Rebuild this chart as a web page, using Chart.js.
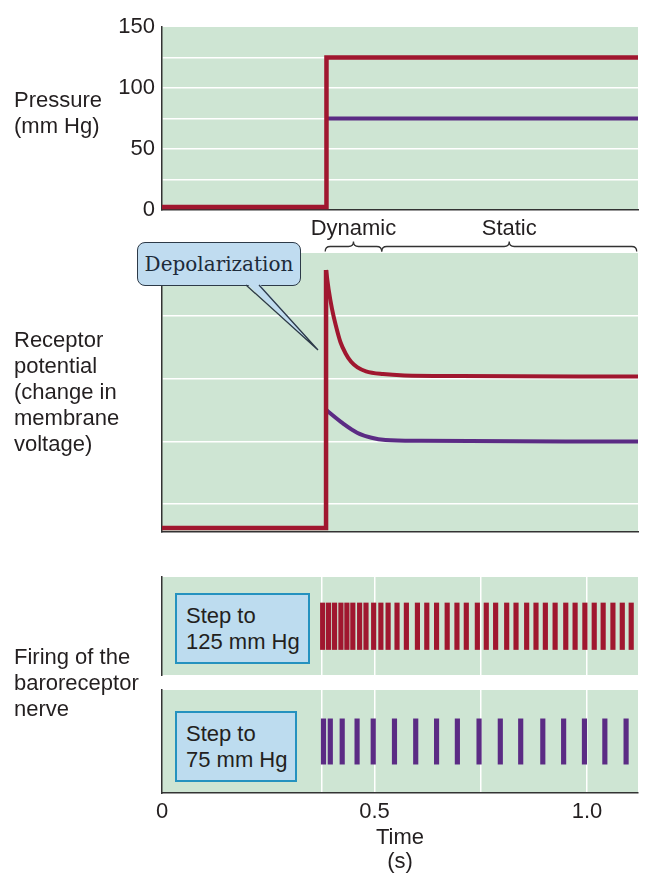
<!DOCTYPE html>
<html lang="en">
<head>
<meta charset="UTF-8">
<title>Baroreceptor response to a pressure step</title>
<script src="https://cdn.jsdelivr.net/npm/chart.js"></script>
<style>
  body { margin: 0; background: #fff; }
  #wrap { position: relative; width: 660px; height: 877px; overflow: hidden;
          font-family: 'Liberation Sans', Arial, sans-serif; color: #231f20; }
  #wrap canvas { position: absolute; left: 0; top: 0; }
  .lbl { position: absolute; left: 14px; font-size: 22px; line-height: 26px; white-space: nowrap; }
  .phase { position: absolute; top: 215px; font-size: 22px; line-height: 26px; transform: translateX(-50%); white-space: nowrap; }
  .step { position: absolute; left: 175px; height: 71px; box-sizing: border-box; background: #bddcef;
          border: 2px solid #2592bf; padding-left: 9px; font-size: 22px; line-height: 26px;
          display: flex; flex-direction: column; justify-content: center; white-space: nowrap; }
  .callout { position: absolute; left: 137px; top: 242px; width: 164px; height: 44px; box-sizing: border-box;
             background: #c0dcf0; border: 1.5px solid #2d3a48; border-radius: 8px;
             font-family: 'DejaVu Serif', 'Liberation Serif', serif; font-size: 20px; color: #1d2b3a;
             display: flex; align-items: center; justify-content: center; }
  svg { position: absolute; left: 0; top: 0; }
</style>
</head>
<body>
<div id="wrap">
  <canvas id="pressChart" width="660" height="877"></canvas>
  <canvas id="recChart" width="660" height="877"></canvas>
  <canvas id="fire125Chart" width="660" height="877"></canvas>
  <canvas id="fire75Chart" width="660" height="877"></canvas>

  <div class="lbl" style="top:87px">Pressure<br>(mm Hg)</div>
  <div class="lbl" style="top:327px">Receptor<br>potential<br>(change in<br>membrane<br>voltage)</div>
  <div class="lbl" style="top:644px">Firing of the<br>baroreceptor<br>nerve</div>

  <div class="callout">Depolarization</div>
  <svg width="660" height="877">
    <polygon points="246,283 318,350 259,283" fill="#c0dcf0"/>
    <polyline points="246,285 318,350 259,285" fill="none" stroke="#2d3a48" stroke-width="1.3"/>
  </svg>

  <div class="step" style="top:593px; width:135px">Step to<br>125 mm Hg</div>
  <div class="step" style="top:711px; width:122px">Step to<br>75 mm Hg</div>
</div>

<script>
const GREEN = '#cee5d3', RED = '#a0172f', PURPLE = '#5b2b84', AXIS = '#333333', INK = '#231f20';
const FONT = "'Liberation Sans', Arial, sans-serif";

// time axis (s)
const timeMax = 1.12;
const timeTicks = [0, 0.5, 1.0];
const timeTickLabels = ['0', '0.5', '1.0'];
const firingGridTimes = [0.375, 0.5, 0.75, 1.0];

// pressure (mm Hg)
const pressureTicks = [0, 50, 100, 150];
const pressureGrid = [25, 50, 75, 100, 125];
const pressRedTime = [0, 0.387, 0.387, 1.12];
const pressRedVal = [2.5, 2.5, 125, 125];
const pressPurpleTime = [0.387, 1.12];
const pressPurpleVal = [75, 75];

// receptor potential (relative units, 0-100)
const receptorGrid = [10, 32.5, 55, 77.5];
const recStepTime = [0, 0.386, 0.386];
const recStepVal = [1.4, 1.4, 93.9];
const recRedTime = [0.386, 0.392, 0.400, 0.409, 0.420, 0.432, 0.445, 0.460, 0.480, 0.520, 0.570, 0.700, 1.12];
const recRedVal = [93.9, 87, 80, 74, 68, 64, 61, 59, 57.6, 56.6, 56.1, 55.9, 55.7];
const recPurpleTime = [0.387, 0.400, 0.425, 0.459, 0.493, 0.526, 0.610, 1.12];
const recPurpleVal = [43.7, 42, 39, 35.6, 33.8, 33.0, 32.7, 32.4];

// dynamic / static phases
const phaseNames = ['Dynamic', 'Static'];
const phaseBounds = [0.384, 0.517, 1.117];

// action potential times (s) and the band each spike spans (panel fraction)
const spikes125 = [0.378, 0.392, 0.406, 0.421, 0.435, 0.449, 0.465, 0.480, 0.498, 0.515, 0.532, 0.553,
                   0.575, 0.601, 0.623, 0.646, 0.671, 0.694, 0.716, 0.742, 0.763, 0.785, 0.811, 0.833,
                   0.858, 0.880, 0.902, 0.925, 0.950, 0.972, 0.995, 1.017, 1.038, 1.061, 1.083, 1.104];
const spikes75 = [0.380, 0.396, 0.424, 0.459, 0.497, 0.547, 0.597, 0.646, 0.695, 0.746, 0.796, 0.844,
                  0.896, 0.945, 0.994, 1.042, 1.092];
const spikeSpan125 = [0.26, 0.735];
const spikeSpan75 = [0.28, 0.72];

const series = (ts, vs) => ts.map((t, i) => ({ x: t, y: vs[i] }));

function lineSet(ts, vs, color, width, curved) {
  return {
    data: series(ts, vs), borderColor: color, borderWidth: width, pointRadius: 0, fill: false,
    tension: 0, cubicInterpolationMode: curved ? 'monotone' : 'default',
    borderJoinStyle: 'miter', borderCapStyle: 'butt'
  };
}

function spikeSet(ts, span, color) {
  return {
    type: 'bar', data: ts.map(t => ({ x: t, y: span })),
    backgroundColor: color, borderWidth: 0, barThickness: 4.5, grouped: false
  };
}

// green plot background
const greenBg = {
  id: 'greenBg',
  beforeDraw(c) {
    const { ctx, chartArea: a } = c;
    ctx.save();
    ctx.fillStyle = GREEN;
    ctx.fillRect(a.left, a.top, a.right - a.left, a.bottom - a.top);
    ctx.restore();
  }
};

function drawBrace(ctx, x1, x2, y) {
  const m = (x1 + x2) / 2, r = 5;
  ctx.beginPath();
  ctx.moveTo(x1, y + r);
  ctx.quadraticCurveTo(x1, y, x1 + r, y);
  ctx.lineTo(m - r, y);
  ctx.quadraticCurveTo(m, y, m, y - r);
  ctx.quadraticCurveTo(m, y, m + r, y);
  ctx.lineTo(x2 - r, y);
  ctx.quadraticCurveTo(x2, y, x2, y + r);
  ctx.stroke();
}

const phaseBraces = {
  id: 'phaseBraces',
  afterDraw(c) {
    const ctx = c.ctx, x = c.scales.x;
    ctx.save();
    ctx.strokeStyle = AXIS;
    ctx.lineWidth = 1.3;
    for (let i = 0; i < phaseNames.length; i++) {
      drawBrace(ctx, x.getPixelForValue(phaseBounds[i]), x.getPixelForValue(phaseBounds[i + 1]), c.chartArea.top - 6.5);
    }
    ctx.restore();
  }
};

function timeScale(extra) {
  return Object.assign({
    type: 'linear', min: 0, max: timeMax, offset: false,
    ticks: { display: false },
    grid: { display: false, drawTicks: false },
    border: { display: true, color: AXIS, width: 1.5 },
    afterFit: s => { s.height = 0; }
  }, extra);
}

function leftScale(extra) {
  return Object.assign({
    ticks: { display: false },
    grid: { display: false, drawTicks: false },
    border: { display: true, color: AXIS, width: 1.5 },
    afterFit: s => { s.width = 162; }
  }, extra);
}

function makeChart(id, top, bottom, scales, datasets, extraPlugins) {
  return new Chart(document.getElementById(id), {
    type: 'line',
    data: { datasets },
    options: {
      responsive: false, animation: false, events: [],
      layout: { padding: { left: 0, right: 22, top, bottom } },
      plugins: { legend: { display: false }, tooltip: { enabled: false } },
      scales
    },
    plugins: [greenBg].concat(extraPlugins || [])
  });
}

const isIn = (list, ctx) => !!(ctx.tick && list.includes(ctx.tick.value));

const firingGrid = {
  display: true, drawTicks: false, offset: false, lineWidth: 1.5,
  color: ctx => isIn(firingGridTimes, ctx) ? '#ffffff' : 'rgba(0,0,0,0)'
};
const firingTicks = s => { s.ticks = [0].concat(firingGridTimes).map(v => ({ value: v })); };

// Pressure
makeChart('pressChart', 27, 667, {
  x: timeScale(),
  y: leftScale({
    min: 0, max: 150,
    ticks: {
      display: true, stepSize: 25, padding: 7, color: INK, font: { family: FONT, size: 22 },
      callback: v => pressureTicks.includes(v) ? String(v) : ''
    },
    grid: {
      display: true, drawTicks: false, lineWidth: 1.5,
      color: ctx => isIn(pressureGrid, ctx) ? '#ffffff' : 'rgba(0,0,0,0)'
    }
  })
}, [
  lineSet(pressRedTime, pressRedVal, RED, 4.5, false),
  lineSet(pressPurpleTime, pressPurpleVal, PURPLE, 4, false)
]);

// Receptor potential
const recChart = makeChart('recChart', 253, 345, {
  x: timeScale(),
  y: leftScale({
    min: 0, max: 100,
    afterBuildTicks: s => { s.ticks = receptorGrid.map(v => ({ value: v })); },
    grid: { display: true, drawTicks: false, lineWidth: 1.5, color: '#ffffff' }
  })
}, [
  lineSet(recStepTime, recStepVal, RED, 4.5, false),
  lineSet(recRedTime, recRedVal, RED, 4, true),
  lineSet(recPurpleTime, recPurpleVal, PURPLE, 4, true)
], [phaseBraces]);

// phase labels centred over the braces
const wrap = document.getElementById('wrap');
phaseNames.forEach((name, i) => {
  const d = document.createElement('div');
  d.className = 'phase';
  d.textContent = name;
  d.style.left = recChart.scales.x.getPixelForValue((phaseBounds[i] + phaseBounds[i + 1]) / 2) + 'px';
  wrap.appendChild(d);
});

// Firing, 125 mm Hg
makeChart('fire125Chart', 577, 202, {
  x: timeScale({ border: { display: false }, grid: firingGrid, afterBuildTicks: firingTicks }),
  y: leftScale({ min: 0, max: 1 })
}, [spikeSet(spikes125, spikeSpan125, RED)]);

// Firing, 75 mm Hg (carries the time axis)
makeChart('fire75Chart', 690, 0, {
  x: timeScale({
    grid: firingGrid,
    afterBuildTicks: firingTicks,
    ticks: {
      display: true, padding: 6, autoSkip: false, maxRotation: 0, color: INK,
      font: { family: FONT, size: 22 },
      callback: v => { const i = timeTicks.indexOf(v); return i >= 0 ? timeTickLabels[i] : ''; }
    },
    title: {
      display: true, text: ['Time', '(s)'], color: INK,
      font: { family: FONT, size: 22, lineHeight: 24 / 22 }, padding: { top: 0, bottom: 3 }
    },
    afterFit: s => { s.height = 84; }
  }),
  y: leftScale({ min: 0, max: 1 })
}, [spikeSet(spikes75, spikeSpan75, PURPLE)]);
</script>
</body>
</html>
